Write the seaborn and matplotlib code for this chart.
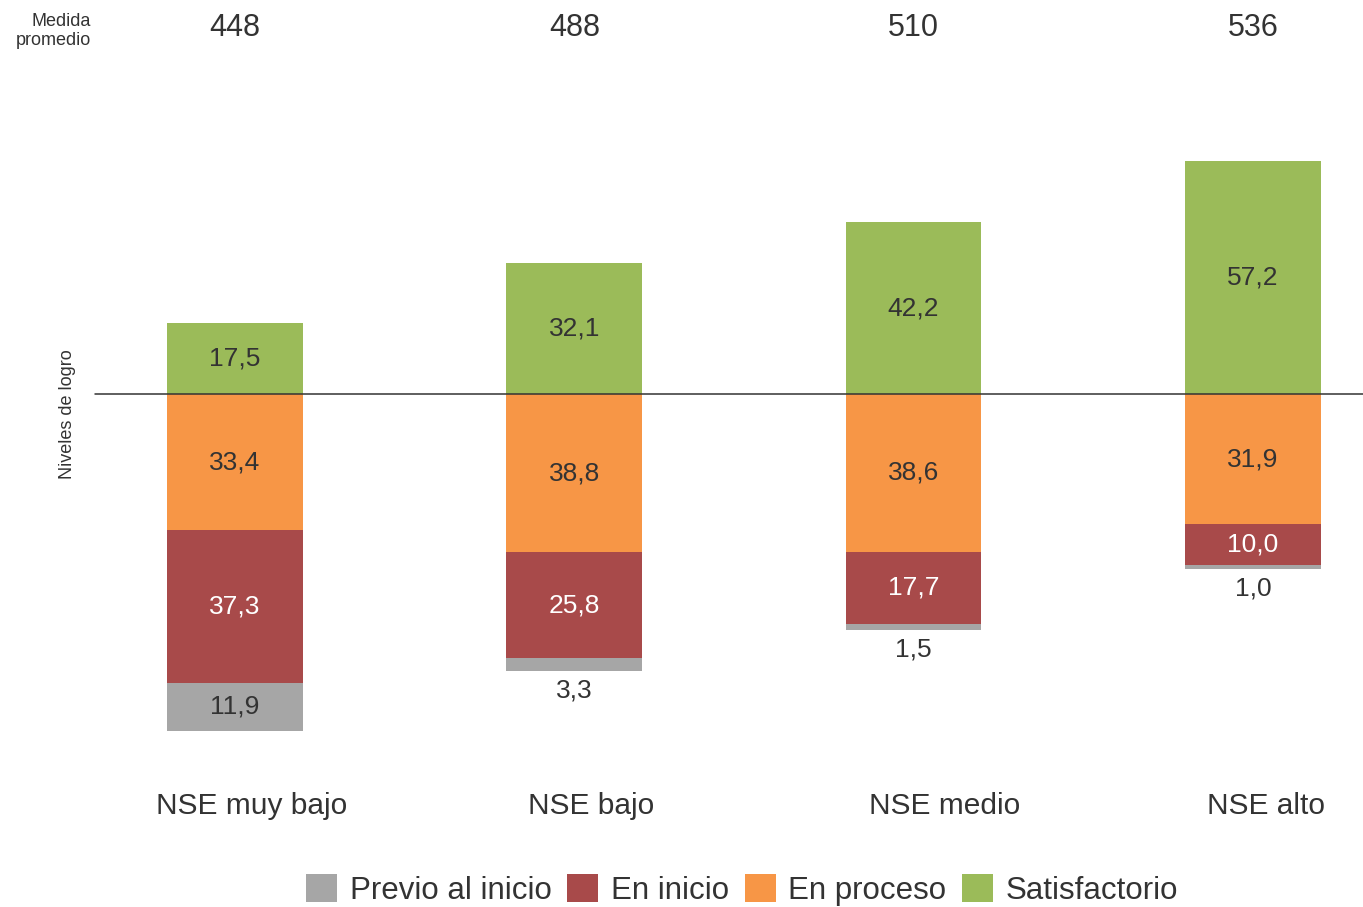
import numpy as np
import seaborn as sns
import matplotlib.pyplot as plt
from matplotlib.patches import Patch
import matplotlib.transforms as mtransforms

# datos
categorias = ["NSE muy bajo", "NSE bajo", "NSE medio", "NSE alto"]
medida_promedio = [448, 488, 510, 536]
previo = [11.9, 3.3, 1.5, 1.0]
inicio = [37.3, 25.8, 17.7, 10.0]
proceso = [33.4, 38.8, 38.6, 31.9]
satisfactorio = [17.5, 32.1, 42.2, 57.2]

niveles = ["Previo al inicio", "En inicio", "En proceso", "Satisfactorio"]
colores = ["#a6a6a6", "#a84a4a", "#f79646", "#9bbb59"]

sns.set_theme(style="white")
plt.rcParams["font.family"] = ["Liberation Sans", "DejaVu Sans"]

fig = plt.figure(figsize=(13.63, 9.07), dpi=100)
ax = fig.add_axes([0, 0, 1, 1])

proc = np.array(proceso)
ini = np.array(inicio)
prev = np.array(previo)

# barras superpuestas (la mas larga primero)
capas = [
    (-(proc + ini + prev), colores[0]),
    (-(proc + ini), colores[1]),
    (-proc, colores[2]),
    (np.array(satisfactorio), colores[3]),
]
for vals, col in capas:
    sns.barplot(x=categorias, y=vals, order=categorias, color=col,
                width=0.4, saturation=1, ax=ax, linewidth=0)

ax.set_xlim(-0.6926, 3.3245)
ax.set_ylim(-125.7, 96.6)
ax.axis("off")

ax.axhline(0, xmin=95 / 1363, xmax=1, color="#333333", lw=1.1, zorder=5)


def fmt(v):
    return f"{v:.1f}".replace(".", ",")


dark = "#333333"
fs = 19
for i in range(len(categorias)):
    s = satisfactorio[i]
    ax.text(i, s / 2, fmt(s), ha="center", va="center", fontsize=fs, color=dark)
    p = proceso[i]
    ax.text(i, -p / 2, fmt(p), ha="center", va="center", fontsize=fs, color=dark)
    n = inicio[i]
    ax.text(i, -p - n / 2, fmt(n), ha="center", va="center", fontsize=fs, color="white")
    g = previo[i]
    if g > 5:
        ax.text(i, -p - n - g / 2, fmt(g), ha="center", va="center", fontsize=fs, color=dark)
    else:
        ax.text(i, -p - n - g - 4.8, fmt(g), ha="center", va="center", fontsize=fs, color=dark)

# etiquetas de categoria y medida promedio
trans = mtransforms.blended_transform_factory(ax.transData, ax.transAxes)
offsets = [0.05, 0.05, 0.09, 0.04]
for i, cat in enumerate(categorias):
    ax.text(i + offsets[i], 1 - 806 / 907, cat, transform=trans, ha="center",
            va="center", fontsize=21.5, color=dark)
    ax.text(i, 1 - 28 / 907, str(medida_promedio[i]), transform=trans,
            ha="center", va="center", fontsize=22, color=dark)

fig.text(91 / 1363, 1 - 31 / 907, "Medida\npromedio", ha="right", va="center",
         fontsize=13, color=dark, linespacing=1.15)
fig.text(68 / 1363, 1 - 414 / 907, "Niveles de logro", rotation=90, ha="center",
         va="center", fontsize=13, color=dark)

handles = [Patch(facecolor=c, edgecolor="none") for c in colores]
fig.legend(handles, niveles, loc="center", bbox_to_anchor=(742 / 1363, 1 - 890 / 907),
           ncol=4, frameon=False, fontsize=22.5, handlelength=1.0, handleheight=1.0,
           handletextpad=0.4, columnspacing=0.5, labelcolor=dark)

fig.savefig("out.png", dpi=100)
